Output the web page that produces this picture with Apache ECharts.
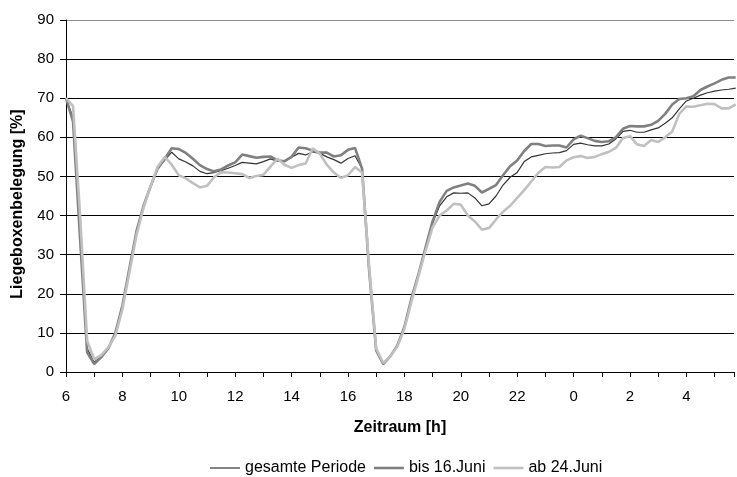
<!DOCTYPE html>
<html>
<head>
<meta charset="utf-8">
<script src="https://cdn.jsdelivr.net/npm/echarts@6/dist/echarts.min.js"></script>
<style>
html,body{margin:0;padding:0;background:#fff;}
#chart{width:737px;height:477px;}
</style>
</head>
<body>
<div id="chart"></div>
<script>
// Time axis: hours since 06:00, sampled every 15 minutes
const seriesNames = ['gesamte Periode', 'bis 16.Juni', 'ab 24.Juni'];
const xTickHours = [6, 8, 10, 12, 14, 16, 18, 20, 22, 0, 2, 4];

const gesamtePeriode = [
  70, 65, 35, 6, 2.5, 4, 6.2, 9.8, 16.8, 26,
  35.5, 42.3, 47.3, 52, 54.2, 56.2, 54.5, 53.7, 52.7, 51.3,
  50.7, 51, 51.5, 52.1, 52.8, 53.6, 53.4, 53.2, 53.8, 54.5,
  53.9, 53.8, 54.9, 55.9, 55.5, 56.3, 55.9, 55, 54.3, 53.4,
  54.6, 55.3, 52, 26, 5.5, 2, 4, 6.8, 11.5, 18.8,
  25, 31.5, 38, 42.5, 44.8, 45.8, 45.7, 45.8, 44.5, 42.5,
  43, 45, 47.8, 49.8, 51, 53.8, 55, 55.4, 55.8, 56,
  56.1, 56.6, 58.2, 58.5, 58.1, 57.8, 57.8, 58.3, 59.6, 61.5,
  61.8, 61.3, 61.3, 61.9, 62.4, 63.6, 65, 67.3, 69.3, 70,
  70.8, 71.4, 71.8, 72.1, 72.3, 72.6
];
const bis16Juni = [
  70, 64, 34, 5, 2, 3.8, 6, 10, 17, 26.5,
  36, 42.5, 47.5, 52, 54.5, 57.2, 57, 56, 54.5, 52.9,
  51.9, 51.3, 51.8, 52.8, 53.6, 55.6, 55.2, 54.8, 55, 55.1,
  54.1, 53.9, 55, 57.4, 57.2, 56.6, 56.1, 56.1, 55.1, 55.4,
  56.8, 57.3, 52, 26, 5.5, 2, 4, 6.8, 11.5, 18.8,
  25, 31.8, 38.5, 43.5, 46.3, 47.2, 47.7, 48.2, 47.6, 45.9,
  46.8, 47.8, 50.3, 52.6, 54.1, 56.5, 58.3, 58.3, 57.8, 57.9,
  57.9, 57.4, 59.5, 60.4, 59.8, 59.1, 58.8, 59, 60, 62.2,
  62.9, 62.8, 62.8, 63.2, 64.2, 66, 68.4, 69.8, 70, 70.5,
  72.1, 73, 73.8, 74.7, 75.3, 75.3
];
const ab24Juni = [
  70, 68, 40, 8, 3.2, 4.3, 6.3, 9.3, 16, 25.5,
  35, 42, 47.5, 52.5, 55, 53, 50.3, 49.5, 48.3, 47.2,
  47.6, 49.8, 51.1, 51, 50.8, 50.6, 49.6, 50.1, 50.4, 52.5,
  54.5, 53, 52.2, 52.9, 53.3, 57.2, 55.8, 53, 51, 49.6,
  50.3, 52.4, 51, 27, 6, 2.3, 4, 6.5, 11, 18,
  24.5, 31, 37, 40, 41.3, 43, 42.8, 40, 38.5, 36.4,
  36.8, 39, 41, 42.5, 44.5, 46.5, 48.7, 50.9, 52.4, 52.3,
  52.4, 54.1, 54.9, 55.2, 54.7, 55, 55.7, 56.3, 57.3, 59.8,
  60.3, 58.2, 57.8, 59.3, 58.8, 60, 61.5, 66, 67.9, 67.8,
  68.2, 68.6, 68.5, 67.4, 67.4, 68.4
];
const sampleStepHours = 0.25;
const times = gesamtePeriode.map((_, i) => i * sampleStepHours);

const pairs = arr => arr.map((v, i) => [times[i], v]);
const FONT = "'Liberation Sans', Arial, sans-serif";
const COLORS = ['#333333', '#808080', '#c0c0c0'];
const WIDTHS = [1.2, 2.6, 2.6];

const chart = echarts.init(document.getElementById('chart'), null, {renderer: 'canvas'});
chart.setOption({
  animation: false,
  backgroundColor: '#ffffff',
  textStyle: {fontFamily: FONT, color: '#000'},
  grid: {left: 66, right: 0, top: 20, bottom: 105, containLabel: false},
  legend: {
    left: 210, top: 460, padding: 0,
    itemWidth: 30, itemHeight: 14, itemGap: 8,
    textStyle: {fontFamily: FONT, fontSize: 16, color: '#000'},
    data: seriesNames.map((n, k) => ({
      name: n,
      icon: 'path://M0,0h30v' + WIDTHS[k] + 'h-30z',
      itemStyle: {color: COLORS[k]}
    }))
  },
  xAxis: {
    type: 'value', min: 0, max: 23.69, interval: 1,
    name: 'Zeitraum [h]', nameLocation: 'middle', nameGap: 48,
    nameTextStyle: {fontFamily: FONT, fontSize: 16, fontWeight: 'bold', color: '#000'},
    axisLine: {show: true, lineStyle: {color: '#000', width: 1}},
    axisTick: {show: true, length: 5, lineStyle: {color: '#000'}},
    axisLabel: {
      fontFamily: FONT, fontSize: 15, color: '#000', margin: 17,
      formatter: v => {
        if (Math.abs(v - Math.round(v)) > 1e-6) return '';
        const h = (6 + Math.round(v)) % 24;
        return xTickHours.indexOf(h) >= 0 ? String(h) : '';
      }
    },
    splitLine: {show: false}
  },
  yAxis: {
    type: 'value', min: 0, max: 90, interval: 10,
    name: 'Liegeboxenbelegung [%]', nameLocation: 'middle', nameGap: 40,
    nameTextStyle: {fontFamily: FONT, fontSize: 16, fontWeight: 'bold', color: '#000', padding: [0, 16, 0, 0]},
    axisLine: {show: true, lineStyle: {color: '#000', width: 1}},
    axisTick: {show: true, length: 6, lineStyle: {color: '#000'}},
    axisLabel: {fontFamily: FONT, fontSize: 15, color: '#000', margin: 12},
    splitLine: {show: true, lineStyle: {color: ['#000','#000','#000','#000','#000','#000','#000','#000','#000','#8c8c8c'], width: 1}}
  },
  series: [
    {name: seriesNames[0], type: 'line', data: pairs(gesamtePeriode), symbol: 'none', smooth: false,
     lineStyle: {color: COLORS[0], width: WIDTHS[0]}, itemStyle: {color: COLORS[0]}},
    {name: seriesNames[1], type: 'line', data: pairs(bis16Juni), symbol: 'none', smooth: false,
     lineStyle: {color: COLORS[1], width: WIDTHS[1]}, itemStyle: {color: COLORS[1]}},
    {name: seriesNames[2], type: 'line', data: pairs(ab24Juni), symbol: 'none', smooth: false,
     lineStyle: {color: COLORS[2], width: WIDTHS[2]}, itemStyle: {color: COLORS[2]}}
  ]
});
</script>
</body>
</html>
